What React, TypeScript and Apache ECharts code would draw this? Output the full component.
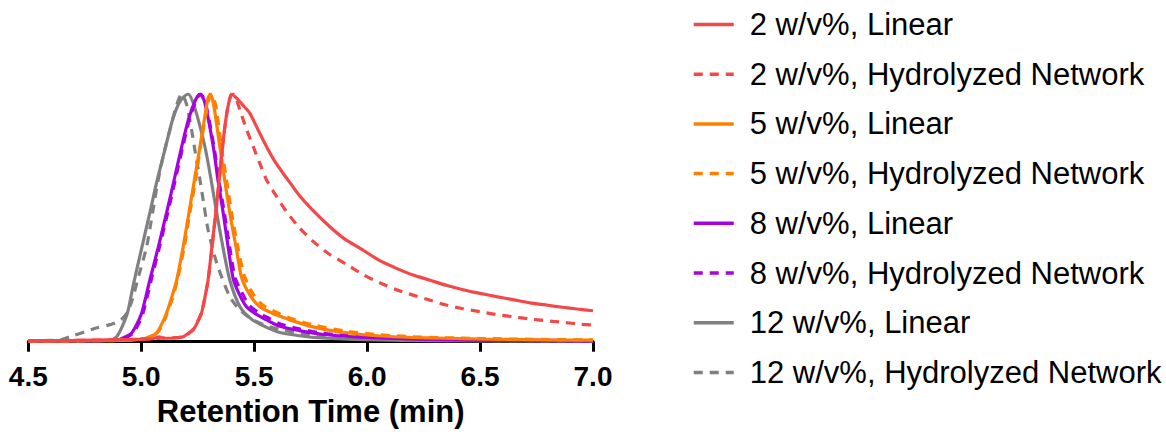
import React, { useEffect, useRef } from "react";
import * as echarts from "echarts";

const seriesNames = [
  "2 w/v%, Linear",
  "2 w/v%, Hydrolyzed Network",
  "5 w/v%, Linear",
  "5 w/v%, Hydrolyzed Network",
  "8 w/v%, Linear",
  "8 w/v%, Hydrolyzed Network",
  "12 w/v%, Linear",
  "12 w/v%, Hydrolyzed Network",
];

const xTicks = [4.5, 5.0, 5.5, 6.0, 6.5, 7.0];

// Retention time (min) / normalized signal pairs
const red2Linear: [number, number][] = [
  [4.5, 0.004], [4.7, 0.005], [4.9, 0.008], [5.0, 0.01], [5.05, 0.012], [5.08, 0.02], [5.1, 0.014],
  [5.15, 0.015], [5.186, 0.02], [5.21, 0.035], [5.23, 0.048], [5.25, 0.08], [5.267, 0.116], [5.28, 0.17],
  [5.296, 0.249], [5.31, 0.36], [5.33, 0.52], [5.345, 0.65], [5.36, 0.787], [5.375, 0.9], [5.39, 0.975],
  [5.4, 1.0], [5.42, 0.985], [5.45, 0.955], [5.481, 0.922], [5.52, 0.85], [5.555, 0.787], [5.59, 0.73],
  [5.628, 0.68], [5.66, 0.64], [5.7, 0.59], [5.76, 0.53], [5.835, 0.464], [5.9, 0.415], [5.982, 0.37],
  [6.05, 0.33], [6.13, 0.296], [6.2, 0.27], [6.276, 0.249], [6.35, 0.228], [6.425, 0.21], [6.5, 0.195],
  [6.573, 0.182], [6.65, 0.169], [6.72, 0.157], [6.8, 0.147], [6.866, 0.139], [6.93, 0.132], [7.0, 0.125],
];

const red2Hydro: [number, number][] = [
  [4.5, 0.004], [4.7, 0.005], [4.9, 0.008], [5.0, 0.01], [5.05, 0.012], [5.1, 0.015], [5.186, 0.02],
  [5.23, 0.05], [5.267, 0.12], [5.296, 0.25], [5.33, 0.52], [5.36, 0.79], [5.38, 0.93], [5.395, 0.99],
  [5.405, 1.0], [5.42, 0.98], [5.437, 0.935], [5.465, 0.86], [5.496, 0.787], [5.525, 0.72], [5.555, 0.653],
  [5.6, 0.585], [5.643, 0.525], [5.7, 0.46], [5.761, 0.405], [5.83, 0.355], [5.909, 0.312], [5.98, 0.272],
  [6.056, 0.238], [6.13, 0.21], [6.2, 0.189], [6.28, 0.167], [6.35, 0.148], [6.42, 0.134], [6.5, 0.121],
  [6.57, 0.11], [6.646, 0.101], [6.72, 0.092], [6.79, 0.085], [6.87, 0.078], [6.94, 0.071], [7.0, 0.067],
];

const orange5Linear: [number, number][] = [
  [4.5, 0.003], [4.8, 0.004], [4.95, 0.006], [5.0, 0.01], [5.024, 0.015], [5.05, 0.025], [5.068, 0.035],
  [5.09, 0.07], [5.112, 0.116], [5.135, 0.18], [5.157, 0.249], [5.185, 0.38], [5.211, 0.52], [5.235, 0.65],
  [5.26, 0.787], [5.28, 0.9], [5.295, 0.98], [5.305, 1.0], [5.32, 0.96], [5.348, 0.787], [5.37, 0.65],
  [5.392, 0.52], [5.42, 0.38], [5.444, 0.26], [5.48, 0.19], [5.525, 0.141], [5.58, 0.115], [5.614, 0.103],
  [5.658, 0.088], [5.76, 0.06], [5.909, 0.036], [6.056, 0.023], [6.2, 0.017], [6.35, 0.014], [6.5, 0.011],
  [6.645, 0.009], [6.8, 0.007], [7.0, 0.006],
];

const orange5Hydro: [number, number][] = [
  [4.5, 0.003], [4.8, 0.004], [4.95, 0.006], [5.0, 0.01], [5.03, 0.015], [5.055, 0.025], [5.075, 0.04],
  [5.095, 0.07], [5.115, 0.116], [5.14, 0.18], [5.16, 0.249], [5.19, 0.38], [5.215, 0.52], [5.24, 0.65],
  [5.262, 0.787], [5.283, 0.9], [5.3, 0.98], [5.31, 1.0], [5.328, 0.96], [5.355, 0.787], [5.378, 0.65],
  [5.4, 0.52], [5.428, 0.38], [5.455, 0.27], [5.49, 0.2], [5.535, 0.15], [5.6, 0.118], [5.66, 0.095],
  [5.76, 0.068], [5.909, 0.042], [6.056, 0.028], [6.2, 0.02], [6.35, 0.016], [6.5, 0.013], [6.7, 0.01],
  [7.0, 0.007],
];

const purple8Linear: [number, number][] = [
  [4.5, 0.003], [4.8, 0.004], [4.9, 0.008], [4.92, 0.015], [4.957, 0.035], [4.98, 0.07], [5.002, 0.116],
  [5.02, 0.18], [5.038, 0.249], [5.075, 0.38], [5.112, 0.52], [5.145, 0.65], [5.179, 0.787], [5.21, 0.9],
  [5.24, 0.975], [5.26, 1.0], [5.28, 0.97], [5.319, 0.787], [5.34, 0.65], [5.363, 0.52], [5.385, 0.38],
  [5.407, 0.255], [5.435, 0.19], [5.466, 0.141], [5.51, 0.11], [5.555, 0.088], [5.614, 0.062], [5.7, 0.045],
  [5.8, 0.03], [5.9, 0.022], [6.06, 0.015], [6.3, 0.009], [6.6, 0.005], [7.0, 0.003],
];

const purple8Hydro: [number, number][] = [
  [4.5, 0.003], [4.8, 0.004], [4.9, 0.007], [4.93, 0.015], [4.965, 0.035], [4.987, 0.07], [5.008, 0.116],
  [5.026, 0.18], [5.044, 0.249], [5.08, 0.38], [5.117, 0.52], [5.15, 0.65], [5.184, 0.787], [5.214, 0.9],
  [5.243, 0.975], [5.262, 1.0], [5.283, 0.97], [5.322, 0.787], [5.344, 0.65], [5.368, 0.52], [5.392, 0.38],
  [5.415, 0.26], [5.445, 0.2], [5.475, 0.15], [5.52, 0.117], [5.565, 0.095], [5.62, 0.07], [5.7, 0.052],
  [5.8, 0.035], [5.9, 0.026], [6.06, 0.018], [6.3, 0.011], [6.6, 0.007], [7.0, 0.004],
];

const gray12Linear: [number, number][] = [
  [4.5, 0.003], [4.8, 0.004], [4.86, 0.006], [4.891, 0.02], [4.915, 0.06], [4.94, 0.12], [4.965, 0.23],
  [5.0, 0.37], [5.038, 0.52], [5.07, 0.65], [5.108, 0.787], [5.14, 0.9], [5.175, 0.975], [5.207, 1.0],
  [5.235, 0.95], [5.282, 0.787], [5.31, 0.65], [5.334, 0.52], [5.362, 0.38], [5.392, 0.249], [5.437, 0.141],
  [5.49, 0.09], [5.555, 0.058], [5.614, 0.037], [5.7, 0.024], [5.8, 0.015], [6.0, 0.008], [6.3, 0.004],
  [7.0, 0.002],
];

const gray12Hydro: [number, number][] = [
  [4.5, 0.003], [4.6, 0.005], [4.65, 0.01], [4.7, 0.025], [4.75, 0.04], [4.8, 0.055], [4.85, 0.066],
  [4.89, 0.078], [4.915, 0.092], [4.935, 0.115], [4.957, 0.16], [4.99, 0.27], [5.024, 0.384], [5.05, 0.52],
  [5.075, 0.653], [5.1, 0.76], [5.127, 0.855], [5.155, 0.95], [5.179, 1.0], [5.2, 0.96], [5.223, 0.855],
  [5.24, 0.76], [5.26, 0.653], [5.278, 0.55], [5.296, 0.451], [5.334, 0.318], [5.392, 0.182], [5.44, 0.125],
  [5.495, 0.088], [5.56, 0.062], [5.63, 0.047], [5.7, 0.035], [5.8, 0.022], [6.0, 0.012], [6.3, 0.006],
  [7.0, 0.003],
];

const seriesData = [
  red2Linear, red2Hydro, orange5Linear, orange5Hydro,
  purple8Linear, purple8Hydro, gray12Linear, gray12Hydro,
];

const RED = "#F44848";
const ORANGE = "#FF7F00";
const PURPLE = "#A600E3";
const GRAY = "#808080";
const seriesColors = [RED, RED, ORANGE, ORANGE, PURPLE, PURPLE, GRAY, GRAY];
const seriesDashed = [false, true, false, true, false, true, false, true];

export default function App() {
  const ref = useRef<HTMLDivElement>(null);

  useEffect(() => {
    document.body.style.margin = "0";
    if (!ref.current) return;
    const chart = echarts.init(ref.current, undefined, { renderer: "svg" });

    const series = seriesNames.map((name, i) => ({
      name,
      type: "line",
      data: seriesData[i],
      showSymbol: false,
      symbol: "none",
      smooth: 0.25,
      z: 10 - i,
      color: seriesColors[i],
      lineStyle: {
        color: seriesColors[i],
        width: 3.2,
        type: seriesDashed[i] ? [9, 7] : "solid",
      },
    }));

    chart.setOption({
      animation: false,
      backgroundColor: "#ffffff",
      grid: { left: 28.3, right: 573, top: 94, bottom: 99.3, containLabel: false },
      xAxis: {
        type: "value",
        min: 4.5,
        max: 7.0,
        interval: 0.5,
        name: "Retention Time (min)",
        nameLocation: "middle",
        nameGap: 52,
        nameTextStyle: {
          fontFamily: "Liberation Sans, Arial, sans-serif",
          fontWeight: "bold",
          fontSize: 31,
          color: "#000",
        },
        axisLine: { show: true, onZero: false, lineStyle: { color: "#000", width: 3 } },
        axisTick: { show: true, length: 10, lineStyle: { color: "#000", width: 3 } },
        splitLine: { show: false },
        axisLabel: {
          margin: 21,
          fontFamily: "Liberation Sans, Arial, sans-serif",
          fontWeight: "bold",
          fontSize: 28,
          color: "#000",
          formatter: (v: number) => (xTicks.includes(Math.round(v * 10) / 10) ? v.toFixed(1) : ""),
        },
      },
      yAxis: {
        type: "value",
        min: 0,
        max: 1,
        show: false,
      },
      legend: {
        orient: "vertical",
        left: 687,
        top: 4,
        itemWidth: 40,
        itemHeight: 14,
        itemGap: 18.7,
        data: seriesNames,
        itemStyle: { color: "rgba(0,0,0,0)", borderWidth: 0, opacity: 0 },
        lineStyle: { width: 3.5 },
        textStyle: {
          fontFamily: "Liberation Sans, Arial, sans-serif",
          fontSize: 31,
          lineHeight: 30,
          color: "#000",
          padding: [0, 0, 0, 11],
        },
      },
      series,
    });

    return () => chart.dispose();
  }, []);

  return <div ref={ref} style={{ width: 1166, height: 441 }} />;
}
